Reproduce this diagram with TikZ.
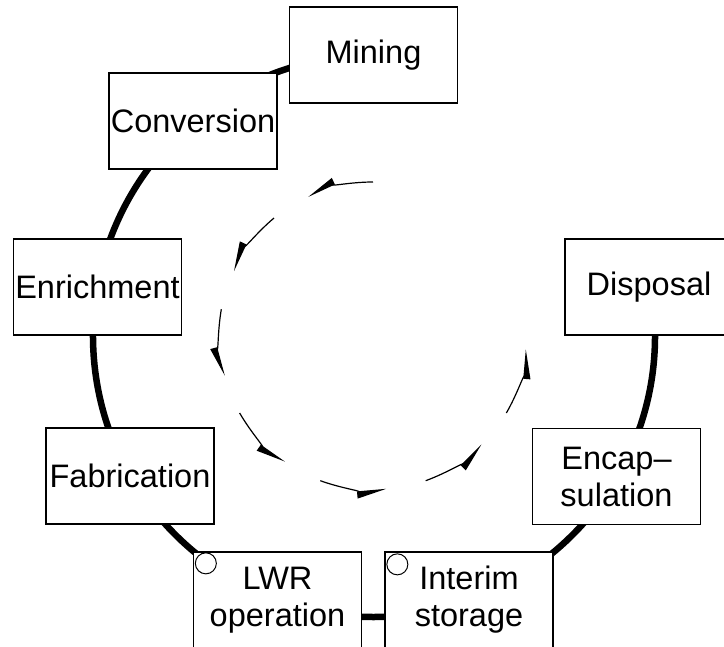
\documentclass[tikz,border=0pt]{standalone}
\usepackage{fontspec}
\setmainfont{Liberation Sans}
\usetikzlibrary{arrows.meta,backgrounds}
\begin{document}
\begin{tikzpicture}[x=1pt,y=1pt,
  stage/.style={draw, line width=1.3pt, fill=white, minimum width=168pt,
    minimum height=96pt, inner sep=0pt, align=center,
    font=\fontsize{32.5}{37}\selectfont},
  cyclepath/.style={line width=6.5pt},
  flow/.style={line width=1.2pt, -{Triangle[harpoon,swap,length=27pt,width=13pt]}},
  ring/.style={draw, circle, line width=1pt, minimum size=21pt, inner sep=0pt}]
\useasboundingbox (0,0) rectangle (724,647);
\coordinate (c) at (374,311);
\coordinate (ic) at (373,311);

\node[stage] (mining)      at (373.5,592) {Mining};
\node[stage] (conversion)  at (193,526)   {Conversion};
\node[stage] (enrichment)  at (97.5,360)  {Enrichment};
\node[stage] (fabrication) at (130,171)   {Fabrication};
\node[stage] (lwr)         at (277.5,47)  {LWR\\operation};
\node[stage] (interim)     at (469,47)    {Interim\\storage};
\node[stage] (disposal)    at (649,360)   {Disposal};
\node[stage] (encap)       at (616.5,170.5) {Encap–\\sulation};

\node[ring] (lwrmark) at ([shift={(13,-12)}]lwr.north west) {};
\node[ring] (interimmark) at ([shift={(13,-13)}]interim.north west) {};

\begin{scope}[on background layer]
  \draw[cyclepath] ([shift={(5:281)}]c) arc[start angle=5, end angle=-260, radius=281];
\end{scope}

\foreach \a in {90,130,...,330}
  \draw[flow] ([shift={(\a:154)}]ic) arc[start angle=\a, delta angle=25, radius=154];
\end{tikzpicture}
\end{document}
